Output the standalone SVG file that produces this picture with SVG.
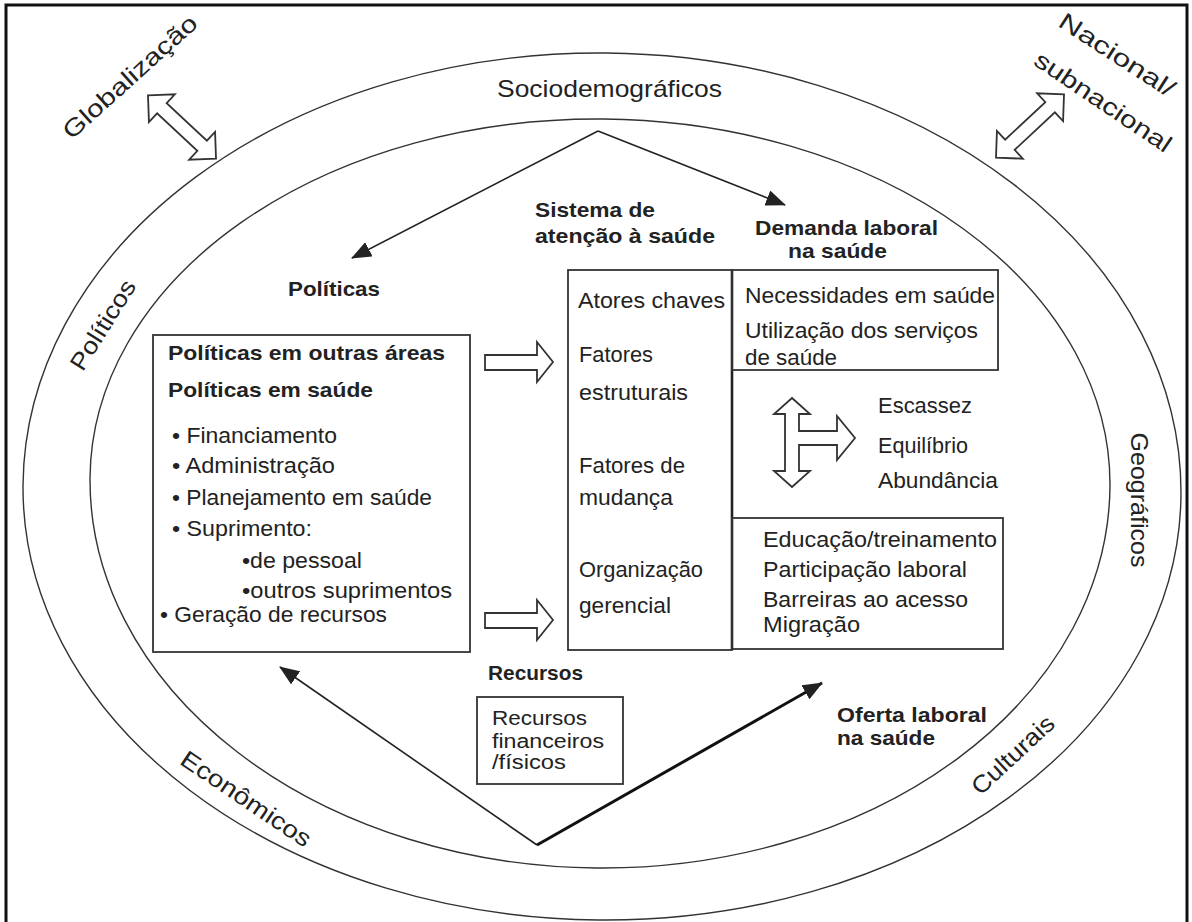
<svg xmlns="http://www.w3.org/2000/svg" width="1192" height="922" viewBox="0 0 1192 922">
<style>
text{font-family:"Liberation Sans",Arial,sans-serif;fill:#222;}
.r{font-size:22px;}
.b{font-size:21px;font-weight:bold;}
.o{font-size:24px;}
.sm{font-size:20px;}
.box{fill:none;stroke:#333;stroke-width:1.8;}
.ring{fill:none;stroke:#333;stroke-width:1.4;}
.ha{fill:#fff;stroke:#333;stroke-width:1.8;stroke-linejoin:miter;}
.ln{fill:none;stroke:#222;stroke-width:1.6;}
.lnb{fill:none;stroke:#111;stroke-width:3;}
</style>
<defs>
<marker id="ah" viewBox="0 0 20 16" refX="19" refY="8" markerWidth="20" markerHeight="16" markerUnits="userSpaceOnUse" orient="auto"><path d="M0,0 L20,8 L0,16 z" fill="#222"/></marker>
<path id="dbl" d="M-46.5,0 L-27.5,-19 L-27.5,-7 L27.5,-7 L27.5,-19 L46.5,0 L27.5,19 L27.5,7 L-27.5,7 L-27.5,19 Z"/>
</defs>
<rect width="1192" height="922" fill="#fff"/>
<path d="M6,922 V5 H1187 V922" fill="none" stroke="#111" stroke-width="3"/>

<g id="rings">
<path class="ring" d="M23,490 A579,437 0 0 1 1181,490 A579,430 0 0 1 23,490 Z" transform="rotate(0.5 602 490)"/>
<path class="ring" d="M90,482 A510,363 0 0 1 1110,482 A510,386 0 0 1 90,482 Z" transform="rotate(0.5 600 482)"/>
</g>

<g id="outer-labels">
<text class="o" text-anchor="middle" transform="translate(130,77) rotate(-42)" y="8" textLength="172" lengthAdjust="spacingAndGlyphs">Globalização</text>
<text class="o" text-anchor="middle" transform="translate(1117,55) rotate(33)" y="8" textLength="133" lengthAdjust="spacingAndGlyphs">Nacional/</text>
<text class="o" text-anchor="middle" transform="translate(1103,102) rotate(34)" y="8" textLength="160" lengthAdjust="spacingAndGlyphs">subnacional</text>
<text class="o" x="497" y="97" textLength="225" lengthAdjust="spacingAndGlyphs">Sociodemográficos</text>
<text class="o" text-anchor="middle" transform="translate(103,325) rotate(-58)" y="8" textLength="102" lengthAdjust="spacingAndGlyphs">Políticos</text>
<text class="o" text-anchor="middle" transform="translate(1139,500) rotate(90)" y="8" textLength="135" lengthAdjust="spacingAndGlyphs">Geográficos</text>
<text class="o" text-anchor="middle" transform="translate(246,799) rotate(34)" y="8" textLength="152" lengthAdjust="spacingAndGlyphs">Econômicos</text>
<text class="o" text-anchor="middle" transform="translate(1013,755) rotate(-43)" y="8" textLength="104" lengthAdjust="spacingAndGlyphs">Culturais</text>
</g>

<g id="scope-arrows">
<use href="#dbl" class="ha" transform="translate(182,127) rotate(43)"/>
<use href="#dbl" class="ha" transform="translate(1030,126) rotate(-43)"/>
</g>

<g id="connectors">
<path class="ln" d="M598,131 L352,258" marker-end="url(#ah)"/>
<path class="ln" d="M598,131 L785,205" marker-end="url(#ah)"/>
<path class="ln" d="M537,845 L280,667" marker-end="url(#ah)"/>
<path class="lnb" d="M537,845 L822,683" marker-end="url(#ah)"/>
<path class="ha" d="M485,355 H537 V342 L553,362 L537,382 V370 H485 Z"/>
<path class="ha" d="M485,613 H537 V600 L553,620 L537,640 V628 H485 Z"/>
<path class="ha" d="M792,398 L810,414 L799,414 L799,431 L837,431 L837,416 L855,438 L837,460 L837,445 L799,445 L799,471 L810,471 L792,487 L774,471 L785,471 L785,414 L774,414 Z"/>
</g>

<g id="politicas">
<text class="b" x="288" y="296" textLength="92" lengthAdjust="spacingAndGlyphs">Políticas</text>
<rect class="box" x="153" y="335" width="317" height="317"/>
<text class="b" x="168" y="360" textLength="277" lengthAdjust="spacingAndGlyphs">Políticas em outras áreas</text>
<text class="b" x="168" y="397" textLength="205" lengthAdjust="spacingAndGlyphs">Políticas em saúde</text>
<text class="r" x="172" y="443" textLength="165" lengthAdjust="spacingAndGlyphs">• Financiamento</text>
<text class="r" x="172" y="473" textLength="163" lengthAdjust="spacingAndGlyphs">• Administração</text>
<text class="r" x="172" y="505" textLength="260" lengthAdjust="spacingAndGlyphs">• Planejamento em saúde</text>
<text class="r" x="172" y="536" textLength="140" lengthAdjust="spacingAndGlyphs">• Suprimento:</text>
<text class="r" x="242" y="568" textLength="120" lengthAdjust="spacingAndGlyphs">•de pessoal</text>
<text class="r" x="242" y="598" textLength="210" lengthAdjust="spacingAndGlyphs">•outros suprimentos</text>
<text class="r" x="160" y="622" textLength="227" lengthAdjust="spacingAndGlyphs">• Geração de recursos</text>
</g>

<g id="sistema">
<text class="b" x="535" y="217" textLength="120" lengthAdjust="spacingAndGlyphs">Sistema de</text>
<text class="b" x="535" y="243" textLength="180" lengthAdjust="spacingAndGlyphs">atenção à saúde</text>
<rect class="box" x="568" y="270" width="164" height="380"/>
<line x1="732" y1="270" x2="732" y2="650" stroke="#222" stroke-width="2.6"/>
<text class="r" x="578" y="308" textLength="147" lengthAdjust="spacingAndGlyphs">Atores chaves</text>
<text class="r" x="579" y="362" textLength="74" lengthAdjust="spacingAndGlyphs">Fatores</text>
<text class="r" x="579" y="400" textLength="109" lengthAdjust="spacingAndGlyphs">estruturais</text>
<text class="r" x="579" y="473" textLength="106" lengthAdjust="spacingAndGlyphs">Fatores de</text>
<text class="r" x="579" y="505" textLength="94" lengthAdjust="spacingAndGlyphs">mudança</text>
<text class="r" x="579" y="577" textLength="124" lengthAdjust="spacingAndGlyphs">Organização</text>
<text class="r" x="579" y="613" textLength="92" lengthAdjust="spacingAndGlyphs">gerencial</text>
</g>

<g id="demanda">
<text class="b" x="755" y="235" textLength="183" lengthAdjust="spacingAndGlyphs">Demanda laboral</text>
<text class="b" x="788" y="258" textLength="99" lengthAdjust="spacingAndGlyphs">na saúde</text>
<rect class="box" x="732" y="270" width="266" height="100"/>
<text class="r" x="745" y="303" textLength="250" lengthAdjust="spacingAndGlyphs">Necessidades em saúde</text>
<text class="r" x="745" y="338" textLength="233" lengthAdjust="spacingAndGlyphs">Utilização dos serviços</text>
<text class="r" x="745" y="365" textLength="92" lengthAdjust="spacingAndGlyphs">de saúde</text>
</g>

<g id="equilibrio">
<text class="r" x="878" y="413" textLength="94" lengthAdjust="spacingAndGlyphs">Escassez</text>
<text class="r" x="878" y="453" textLength="90" lengthAdjust="spacingAndGlyphs">Equilíbrio</text>
<text class="r" x="878" y="488" textLength="120" lengthAdjust="spacingAndGlyphs">Abundância</text>
</g>

<g id="oferta-box">
<rect class="box" x="732" y="518" width="271" height="131"/>
<text class="r" x="763" y="547" textLength="234" lengthAdjust="spacingAndGlyphs">Educação/treinamento</text>
<text class="r" x="763" y="577" textLength="204" lengthAdjust="spacingAndGlyphs">Participação laboral</text>
<text class="r" x="763" y="607" textLength="205" lengthAdjust="spacingAndGlyphs">Barreiras ao acesso</text>
<text class="r" x="763" y="632" textLength="97" lengthAdjust="spacingAndGlyphs">Migração</text>
</g>

<g id="recursos">
<text class="b" x="488" y="680" textLength="95" lengthAdjust="spacingAndGlyphs">Recursos</text>
<rect class="box" x="477" y="697" width="146" height="87"/>
<text class="sm" x="492" y="725" textLength="95" lengthAdjust="spacingAndGlyphs">Recursos</text>
<text class="sm" x="492" y="748" textLength="112" lengthAdjust="spacingAndGlyphs">financeiros</text>
<text class="sm" x="492" y="769" textLength="74" lengthAdjust="spacingAndGlyphs">/físicos</text>
</g>

<g id="oferta">
<text class="b" x="837" y="722" textLength="150" lengthAdjust="spacingAndGlyphs">Oferta laboral</text>
<text class="b" x="837" y="745" textLength="98" lengthAdjust="spacingAndGlyphs">na saúde</text>
</g>
</svg>
